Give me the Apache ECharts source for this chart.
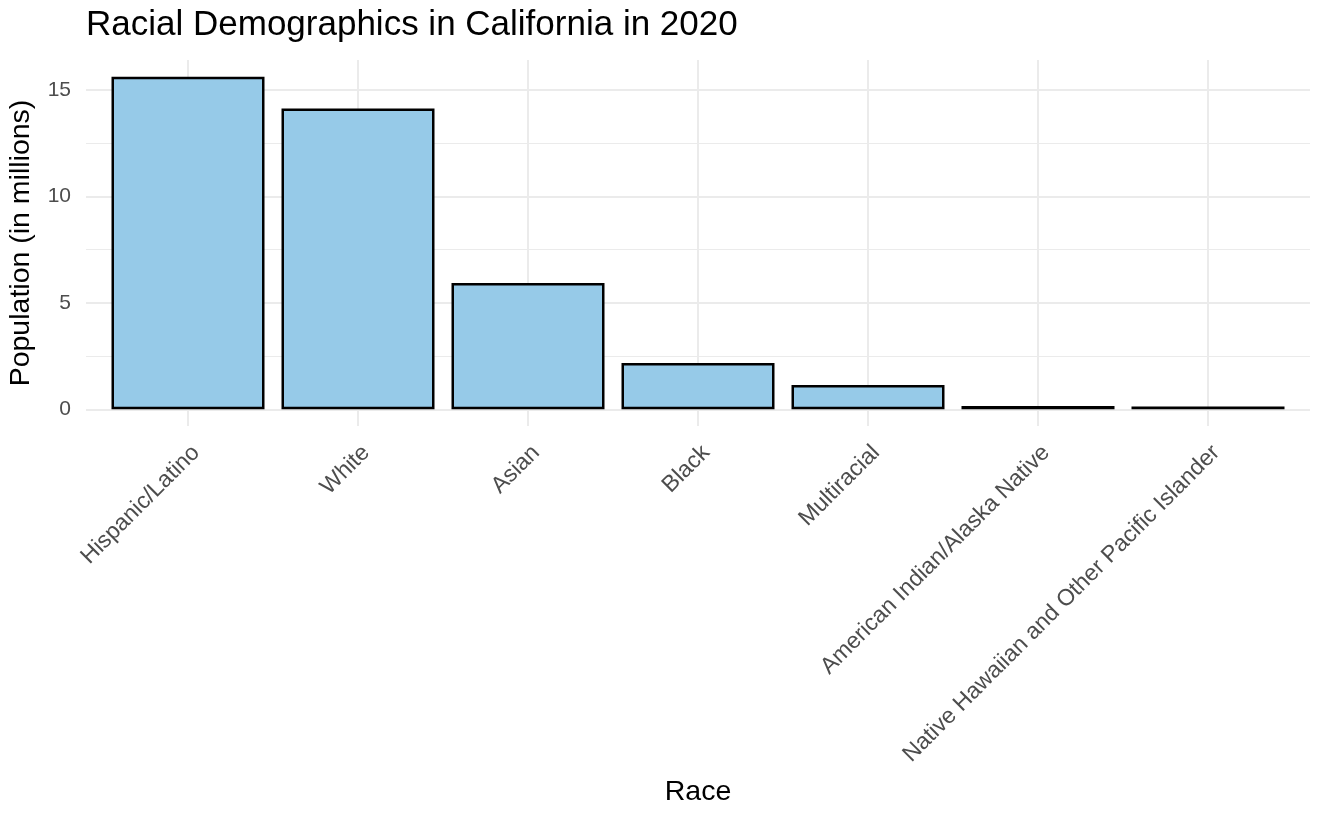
<!DOCTYPE html>
<html>
<head>
<meta charset="utf-8">
<script src="https://cdn.jsdelivr.net/npm/echarts@6/dist/echarts.min.js"></script>
<style>
html,body{margin:0;padding:0;background:#fff;}
#chart{width:1326px;height:818px;}
</style>
</head>
<body>
<div id="chart"></div>
<script>
// ---- data ----
const categories = ["Hispanic/Latino", "White", "Asian", "Black", "Multiracial", "American Indian/Alaska Native", "Native Hawaiian and Other Pacific Islander"];
const population = [15.62, 14.12, 5.93, 2.18, 1.14, 0.16, 0.14];
const majorTicks = [0, 5, 10, 15];
const minorStep = 2.5;
const titleText = "Racial Demographics in California in 2020";
const xTitle = "Race";
const yTitle = "Population (in millions)";

// ---- derived scale (ggplot-like expansion) ----
const ymaxData = Math.max(...population);
const yMin = -0.05 * ymaxData;
const yMax = 1.05 * ymaxData;
const xMin = -0.6, xMax = categories.length - 1 + 0.6;

const W = 1326, H = 818;
const gLeft = 86, gRight = 16, gTop = 60, gBottomY = 426;
const gHeight = gBottomY - gTop;
const zeroY = gBottomY - gHeight * (0 - yMin) / (yMax - yMin);

const FONT = "'Liberation Sans', Arial, Helvetica, sans-serif";
const GRID = '#EBEBEB';

const chart = echarts.init(document.getElementById('chart'), null, {renderer: 'canvas'});
chart.setOption({
  backgroundColor: '#fff',
  animation: false,
  title: {
    text: titleText, left: 86, top: 8, padding: 0,
    textStyle: {fontFamily: FONT, fontSize: 35, fontWeight: 'normal', color: '#000'}
  },
  grid: [
    {left: gLeft, right: gRight, top: gTop, bottom: H - gBottomY, containLabel: false, outerBoundsMode: 'none'},
    {left: gLeft, right: gRight, top: gTop, bottom: H - zeroY, containLabel: false, outerBoundsMode: 'none'}
  ],
  xAxis: [
    {
      type: 'value', gridIndex: 0, min: xMin, max: xMax, splitNumber: 7, minInterval: 1, maxInterval: 1,
      name: xTitle, nameLocation: 'middle', nameGap: 352, nameMoveOverlap: false,
      nameTextStyle: {fontFamily: FONT, fontSize: 28.5, color: '#000'},
      axisLine: {show: false, onZero: false}, axisTick: {show: false},
      axisLabel: {
        rotate: 45, margin: 15, align: 'right', verticalAlign: 'top',
        fontFamily: FONT, fontSize: 23, color: '#4D4D4D',
        showMinLabel: false, showMaxLabel: false,
        formatter: v => (Math.abs(v - Math.round(v)) < 1e-6 && categories[Math.round(v)] !== undefined) ? categories[Math.round(v)] : ''
      },
      splitLine: {show: true, showMinLine: false, showMaxLine: false, lineStyle: {color: GRID, width: 2}}
    },
    {
      type: 'value', gridIndex: 1, min: xMin, max: xMax, show: false
    }
  ],
  yAxis: [
    {
      type: 'value', gridIndex: 0, min: yMin, max: yMax, splitNumber: 4, minInterval: 5, maxInterval: 5,
      name: yTitle, nameLocation: 'middle', nameGap: 50, nameRotate: 90, nameMoveOverlap: false,
      nameTextStyle: {fontFamily: FONT, fontSize: 28.5, color: '#000'},
      axisLine: {show: false}, axisTick: {show: false},
      axisLabel: {
        margin: 15, fontFamily: FONT, fontSize: 21, color: '#4D4D4D',
        showMinLabel: false, showMaxLabel: false,
        formatter: v => majorTicks.some(t => Math.abs(t - v) < 1e-6) ? String(Math.round(v)) : ''
      },
      splitLine: {show: true, showMinLine: false, showMaxLine: false, lineStyle: {color: GRID, width: 2}}
    },
    {
      type: 'value', gridIndex: 1, min: 0, max: yMax, interval: minorStep,
      axisLine: {show: false}, axisTick: {show: false}, axisLabel: {show: false},
      splitLine: {show: true, showMinLine: false, showMaxLine: false, lineStyle: {color: GRID, width: 1}}
    }
  ],
  series: [{
    type: 'bar', xAxisIndex: 0, yAxisIndex: 0,
    data: population.map((v, i) => [i, v]),
    barWidth: '90%',
    itemStyle: {color: '#96CAE8', borderColor: '#000', borderWidth: 2.5}
  }]
});
</script>
</body>
</html>
